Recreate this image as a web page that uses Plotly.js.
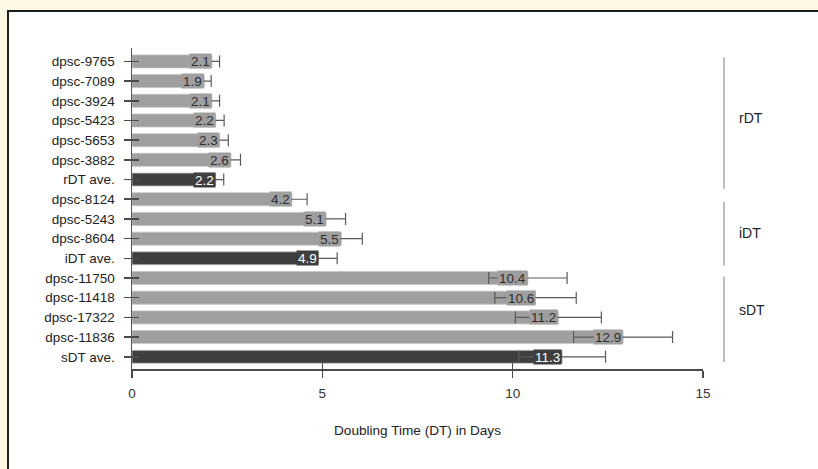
<!DOCTYPE html>
<html>
<head>
<meta charset="utf-8">
<script src="https://cdn.plot.ly/plotly-3.0.1.min.js"></script>
<style>
  html, body { margin:0; padding:0; width:818px; height:469px; overflow:hidden; background:#fdf8e3; }
  #frame { position:absolute; left:7px; top:10px; width:830px; height:480px; background:#ffffff; border:2px solid #1e1e1e; box-shadow: 1px 1px 1px #999; }
  #chart { position:absolute; left:0; top:0; width:818px; height:469px; }
</style>
</head>
<body>
<div id="frame"></div>
<div id="chart"></div>
<script>
// ---- data ----
const categories = ['dpsc-9765','dpsc-7089','dpsc-3924','dpsc-5423','dpsc-5653','dpsc-3882','rDT ave.',
                    'dpsc-8124','dpsc-5243','dpsc-8604','iDT ave.',
                    'dpsc-11750','dpsc-11418','dpsc-17322','dpsc-11836','sDT ave.'];
const values = [2.1, 1.9, 2.1, 2.2, 2.3, 2.6, 2.2, 4.2, 5.1, 5.5, 4.9, 10.4, 10.6, 11.2, 12.9, 11.3];
const errors = [0.2, 0.18, 0.2, 0.22, 0.23, 0.25, 0.21, 0.4, 0.51, 0.55, 0.49, 1.03, 1.07, 1.13, 1.3, 1.14];
const groupNames = ['rDT', 'iDT', 'sDT'];
const xTicks = [0, 5, 10, 15];

// ---- styling ----
const GRAY = '#9f9f9f', DARK = '#3f3f3f';
const isAve = categories.map(c => c.endsWith('ave.'));
const barColors = isAve.map(a => a ? DARK : GRAY);
const FONT = 'Liberation Sans, Arial, sans-serif';

const bars = {
  type: 'bar', orientation: 'h',
  x: values, y: categories,
  marker: { color: barColors, line: { color: '#c4c4c4', width: 0.8 } },
  error_x: { type: 'data', array: errors, visible: true, color: '#5a5a5a', thickness: 1.2, width: 6 },
  hoverinfo: 'x+y', showlegend: false
};
const dummy = {
  type: 'scatter', mode: 'none', x: values, y: categories,
  xaxis: 'x2', yaxis: 'y2', hoverinfo: 'skip', showlegend: false
};

const annotations = values.map((v, i) => ({
  x: v, y: categories[i], xref: 'x', yref: 'y',
  text: v.toFixed(1), showarrow: false, xanchor: 'right', yanchor: 'middle',
  bgcolor: barColors[i], borderpad: 1, height: 12,
  font: { family: FONT, size: 13.5, color: isAve[i] ? '#ffffff' : '#2e2e2e' }
}));

// group brackets
const groupSpans = [[-0.2, 6.47], [7.13, 10.37], [10.93, 15.27]];
const groupLabelPos = [2.87, 8.73, 12.6];
const shapes = groupSpans.map(s => ({
  type: 'line', xref: 'paper', yref: 'y', x0: 1.0368, x1: 1.0368, y0: s[0], y1: s[1],
  line: { color: '#a8a8a8', width: 1.5 }
}));
groupNames.forEach((g, i) => annotations.push({
  x: 1.0596, xref: 'paper', y: groupLabelPos[i], yref: 'y', text: g, showarrow: false,
  xanchor: 'left', yanchor: 'middle', font: { family: FONT, size: 14, color: '#222' }
}));

const layout = {
  width: 818, height: 469,
  margin: { l: 132, r: 115, t: 48.3, b: 100.1 },
  paper_bgcolor: 'rgba(0,0,0,0)', plot_bgcolor: 'rgba(0,0,0,0)',
  font: { family: FONT, size: 13.5, color: '#222' },
  bargap: 0.34,
  xaxis: {
    range: [0, 15], tickvals: xTicks, ticktext: xTicks.map(String),
    showgrid: false, zeroline: false, showline: true, linecolor: '#4a4a4a', linewidth: 2,
    ticks: 'outside', ticklen: 7, tickwidth: 1.5, tickcolor: '#4a4a4a',
    ticklabelstandoff: 4,
    tickfont: { family: FONT, size: 13.5, color: '#333' },
    title: { text: 'Doubling Time (DT) in Days', font: { family: FONT, size: 13.6, color: '#222' }, standoff: 25 },
    fixedrange: true
  },
  yaxis: {
    type: 'category', categoryorder: 'array', categoryarray: categories,
    range: [15.62, -0.68],
    showgrid: false, zeroline: false, showline: true, linecolor: '#555', linewidth: 1.5,
    ticks: 'outside', ticklen: 7, tickwidth: 1.5, tickcolor: '#4a4a4a',
    ticklabelstandoff: 6,
    tickfont: { family: FONT, size: 13.5, color: '#222' },
    fixedrange: true
  },
  xaxis2: {
    overlaying: 'x', matches: 'x', anchor: 'y2', side: 'bottom',
    tickvals: xTicks, ticks: 'inside', ticklen: 7, tickwidth: 1.5, tickcolor: '#4a4a4a',
    showticklabels: false, showline: false, showgrid: false, zeroline: false
  },
  yaxis2: {
    overlaying: 'y', matches: 'y', anchor: 'x2', side: 'left', type: 'category',
    ticks: 'inside', ticklen: 7, tickwidth: 1.5, tickcolor: '#4a4a4a',
    showticklabels: false, showline: false, showgrid: false, zeroline: false
  },
  shapes: shapes,
  annotations: annotations
};

Plotly.newPlot('chart', [bars, dummy], layout, { displayModeBar: false, staticPlot: true });
</script>
</body>
</html>
